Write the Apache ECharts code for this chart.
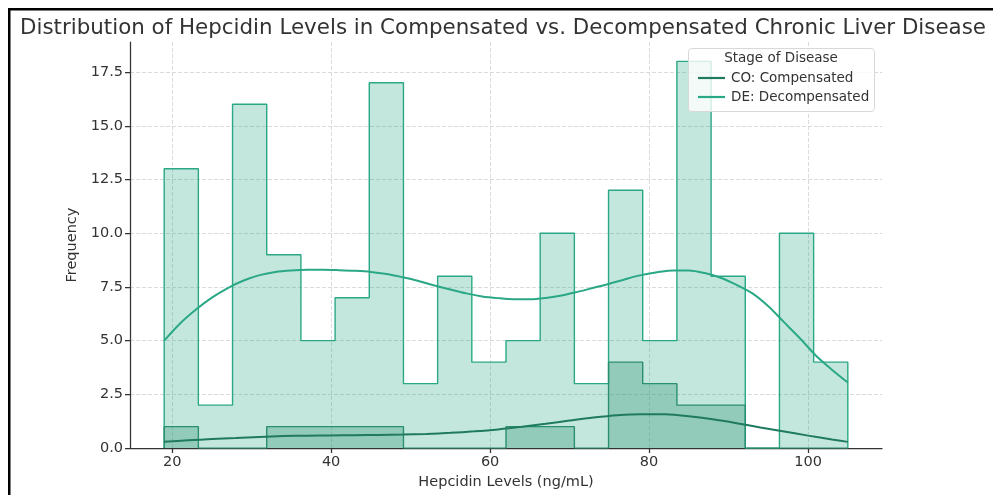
<!DOCTYPE html>
<html>
<head>
<meta charset="utf-8">
<script src="https://cdn.jsdelivr.net/npm/echarts@6/dist/echarts.min.js"></script>
<style>html,body{margin:0;padding:0;background:#fff;}#c{width:993px;height:495px;}</style>
</head>
<body>
<div id="c"></div>
<script>
// Histogram bin edges (ng/mL), shared by both groups
const binEdges = [19, 23.3, 27.6, 31.9, 36.2, 40.5, 44.8, 49.1, 53.4, 57.7, 62.0, 66.3, 70.6, 74.9, 79.2, 83.5, 87.8, 92.1, 96.4, 100.7, 105];
// Counts per bin
const deCounts = [13, 2, 16, 9, 5, 7, 17, 3, 8, 4, 5, 10, 3, 12, 5, 18, 8, 0, 10, 4];
const coCounts = [1, 0, 0, 1, 1, 1, 1, 0, 0, 0, 1, 1, 0, 4, 3, 2, 2, 0, 0, 0];
// KDE curves (scaled to counts)
const kdeX = [19, 21, 23, 25, 27, 29, 31, 33, 35, 37, 39, 41, 43, 45, 47, 49, 51, 53, 55, 57, 59, 61, 63, 65, 67, 69, 71, 73, 75, 77, 79, 81, 83, 85, 87, 89, 91, 93, 95, 97, 99, 101, 103, 105];
const deKde = [5.0, 5.8, 6.45, 7.0, 7.45, 7.8, 8.05, 8.2, 8.27, 8.3, 8.3, 8.28, 8.25, 8.2, 8.1, 7.95, 7.78, 7.57, 7.38, 7.2, 7.06, 6.98, 6.93, 6.93, 6.99, 7.1, 7.27, 7.46, 7.65, 7.86, 8.05, 8.18, 8.27, 8.27, 8.15, 7.93, 7.6, 7.2, 6.6, 5.85, 5.1, 4.3, 3.65, 3.05];
const coKdeX = [19, 22, 25, 28, 31, 34, 37, 40, 43, 46, 49, 52, 55, 58, 61, 64, 67, 70, 73, 76, 79, 82, 85, 88, 91, 94, 97, 100, 103, 105];
const coKde = [0.29, 0.36, 0.42, 0.47, 0.52, 0.56, 0.58, 0.59, 0.6, 0.61, 0.63, 0.66, 0.71, 0.78, 0.87, 0.99, 1.13, 1.28, 1.42, 1.53, 1.58, 1.57, 1.48, 1.34, 1.16, 0.96, 0.77, 0.58, 0.4, 0.29];
const xTicks = [20, 40, 60, 80, 100];
const yTicks = [0, 2.5, 5, 7.5, 10, 12.5, 15, 17.5];
const groupNames = ['CO: Compensated', 'DE: Decompensated'];

function stepData(counts) {
  const d = [[binEdges[0], 0]];
  for (let i = 0; i < counts.length; i++) d.push([binEdges[i], counts[i]]);
  d.push([binEdges[binEdges.length - 1], counts[counts.length - 1]]);
  d.push([binEdges[binEdges.length - 1], 0]);
  return d;
}
function pairs(xs, ys) { return xs.map((x, i) => [x, ys[i]]); }

const CO = '#1f7a60', DE = '#2aa886';
const chart = echarts.init(document.getElementById('c'), null, {renderer: 'canvas'});
const font = 'DejaVu Sans';
chart.setOption({
  animation: false,
  textStyle: {fontFamily: font},
  title: {
    text: 'Distribution of Hepcidin Levels in Compensated vs. Decompensated Chronic Liver Disease',
    left: 15, top: 13,
    textStyle: {fontFamily: font, fontSize: 21.4, fontWeight: 'normal', color: '#333'}
  },
  grid: {left: 130, right: 111, top: 42, bottom: 42},
  xAxis: {
    type: 'value', min: 14.7, max: 109.3,
    name: 'Hepcidin Levels (ng/mL)', nameLocation: 'middle', nameGap: 24,
    nameTextStyle: {fontFamily: font, fontSize: 14.5, color: '#333'},
    axisLine: {show: true, lineStyle: {color: '#333', width: 1.25}},
    axisTick: {show: true, customValues: xTicks, length: 5, lineStyle: {color: '#333', width: 1.25}},
    axisLabel: {customValues: xTicks, fontFamily: font, fontSize: 14.5, color: '#333', margin: 7},
    splitLine: {show: true, lineStyle: {color: '#d0d0d0', type: [4, 2], width: 0.8}}
  },
  yAxis: {
    type: 'value', min: 0, max: 18.9,
    name: 'Frequency', nameLocation: 'middle', nameGap: 43,
    nameTextStyle: {fontFamily: font, fontSize: 14.5, color: '#333'},
    axisLine: {show: true, lineStyle: {color: '#333', width: 1.25}},
    axisTick: {show: true, customValues: yTicks, length: 5, lineStyle: {color: '#333', width: 1.25}},
    axisLabel: {customValues: yTicks, fontFamily: font, fontSize: 14.5, color: '#333', margin: 7,
      formatter: v => v.toFixed(1)},
    splitLine: {show: true, lineStyle: {color: '#d0d0d0', type: [4, 2], width: 0.8}}
  },
  legend: {
    data: groupNames.map(n => ({name: n, icon: 'rect'})), orient: 'vertical', left: 693, top: 65,
    itemWidth: 27, itemHeight: 2.2, itemGap: 3, z: 60,
    textStyle: {fontFamily: font, fontSize: 13.5, color: '#333', padding: [0, 0, 0, 1], lineHeight: 16}
  },
  graphic: [
    {type: 'rect', shape: {x: 9.25, y: 9.25, width: 1200, height: 800}, style: {fill: 'none', stroke: '#000', lineWidth: 2.5}, z: 100},
    {type: 'rect', shape: {x: 688.5, y: 48.5, width: 186, height: 63, r: 3}, style: {fill: 'rgba(255,255,255,0.8)', stroke: '#d8d8d8', lineWidth: 1}, z: 50},
    {type: 'text', x: 781, y: 58, style: {text: 'Stage of Disease', fontFamily: font, fontSize: 13.5, fill: '#333', textAlign: 'center', textVerticalAlign: 'middle'}, z: 51}
  ],
  series: [
    {name: 'DE hist', type: 'line', step: 'end', data: stepData(deCounts), symbol: 'none',
      lineStyle: {color: DE, width: 1.4}, itemStyle: {color: DE},
      areaStyle: {color: 'rgba(42,168,134,0.28)', origin: 0, opacity: 1}, z: 2},
    {name: 'CO hist', type: 'line', step: 'end', data: stepData(coCounts), symbol: 'none',
      lineStyle: {color: '#2a8f70', width: 1.4}, itemStyle: {color: CO},
      areaStyle: {color: 'rgba(31,140,105,0.3)', origin: 0, opacity: 1}, z: 3},
    {name: groupNames[0], type: 'line', smooth: 0.3, data: pairs(coKdeX, coKde), symbol: 'none',
      lineStyle: {color: CO, width: 2}, itemStyle: {color: CO}, z: 4},
    {name: groupNames[1], type: 'line', smooth: 0.3, data: pairs(kdeX, deKde), symbol: 'none',
      lineStyle: {color: DE, width: 2}, itemStyle: {color: DE}, z: 4}
  ]
});
</script>
</body>
</html>
